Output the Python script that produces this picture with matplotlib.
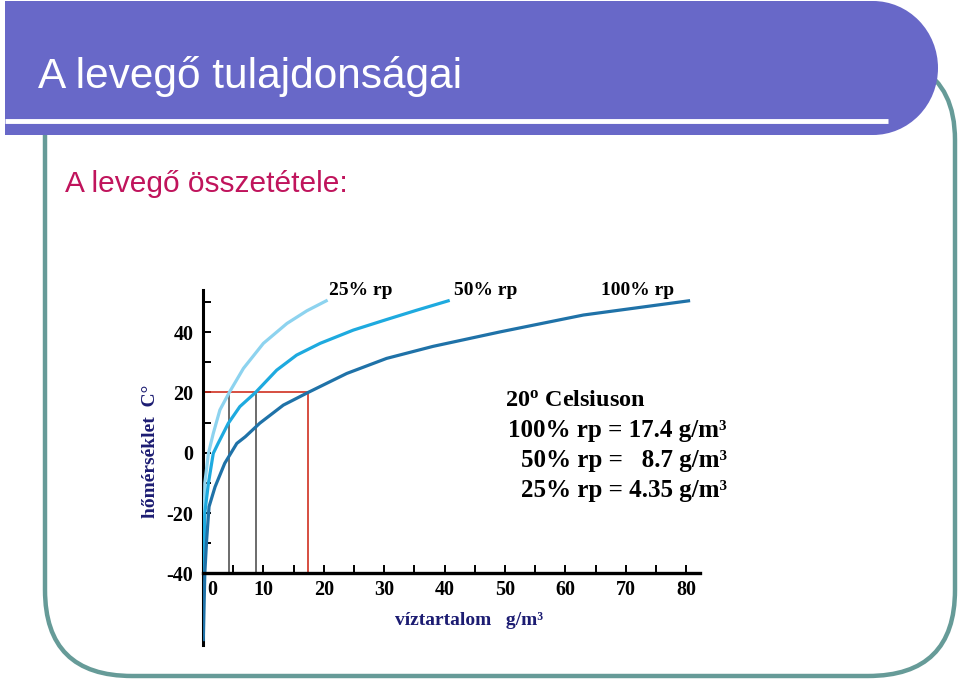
import matplotlib
matplotlib.use("Agg")
import matplotlib.pyplot as plt
from matplotlib.patches import Rectangle, Ellipse, PathPatch
from matplotlib.path import Path
from matplotlib.ticker import FixedLocator
from matplotlib.transforms import ScaledTranslation

# ----- DATA (temperature C, water content g/m3) -----
t_100 = [-62, -40, -29, -17.9, -11.3, -3.5, 3.1, 5.3, 9.8, 15.8, 20, 26.3, 31.3, 35.3, 40.1, 45.7, 50.4]
w_100 = [0.05, 0.3, 0.6, 1.0, 2.0, 3.6, 5.6, 7.0, 9.4, 13.3, 17.4, 23.8, 30.4, 38.1, 49.2, 63.0, 80.4]

t_50 = [-40, -20, -10.1, -0.2, 3.1, 9.8, 15.3, 20, 27.4, 32.4, 36.3, 40.7, 44.2, 47.3, 50.4]
w_50 = [0.1, 0.3, 0.9, 1.7, 2.5, 4.2, 6.1, 8.7, 12.2, 15.5, 19.4, 24.9, 30.4, 35.4, 40.6]

t_25 = [-40, -10.1, -0.2, 6.4, 14.2, 20, 28, 36.3, 42.9, 47.1, 50.4]
w_25 = [0.1, 0.3, 0.9, 1.7, 2.8, 4.35, 6.7, 10.0, 13.9, 17.2, 20.4]

x_major = [0, 10, 20, 30, 40, 50, 60, 70, 80]
x_minor = [5, 15, 25, 35, 45, 55, 65, 75]
y_major = [-40, -20, 0, 20, 40]
y_minor = [-30, -10, 10, 30, 50]

t_mark = 20
w_marks = [4.35, 8.7, 17.4]

curve_labels = ["25% rp", "50% rp", "100% rp"]
info_title = "20$^{\\rm o}$ Celsiuson"
info_lines = ["100% rp = 17.4 g/m³", "50% rp =   8.7 g/m³", "25% rp = 4.35 g/m³"]

# ----- STYLE -----
SERIF = ['Liberation Serif', 'DejaVu Serif']
SANS = ['Liberation Sans Narrow', 'Liberation Sans', 'DejaVu Sans']
NAVY = '#1c1c72'
PURPLE = '#6868c8'
TEAL = '#669b98'
C25, C50, C100 = '#8dd3ef', '#1eaadf', '#1f72a8'

plt.rcParams['font.family'] = SERIF
plt.rcParams['font.weight'] = 'bold'
plt.rcParams['axes.labelweight'] = 'bold'
plt.rcParams['axes.unicode_minus'] = False
plt.rcParams['mathtext.fontset'] = 'custom'
plt.rcParams['mathtext.rm'] = 'Liberation Serif:bold'
plt.rcParams['mathtext.bf'] = 'Liberation Serif:bold'
plt.rcParams['mathtext.it'] = 'Liberation Serif:bold:italic'

fig = plt.figure(figsize=(9.6, 6.83), dpi=100)
fig.patch.set_facecolor('white')

# slide background in pixel coordinates
bg = fig.add_axes([0, 0, 1, 1])
bg.set_xlim(0, 960)
bg.set_ylim(683, 0)
bg.axis('off')

verts = [(45, 135), (45, 590), (45, 676), (132, 676), (868, 676), (955, 676), (955, 590),
         (955, 140), (955, 88), (920, 68)]
codes = [Path.MOVETO, Path.LINETO, Path.CURVE3, Path.CURVE3, Path.LINETO, Path.CURVE3, Path.CURVE3,
         Path.LINETO, Path.CURVE3, Path.CURVE3]
bg.add_patch(PathPatch(Path(verts, codes), fill=False, edgecolor=TEAL, lw=3.2, zorder=1))
bg.add_patch(Rectangle((5, 1), 868, 134, facecolor=PURPLE, edgecolor='none', zorder=2))
bg.add_patch(Ellipse((873, 68), 130, 134, facecolor=PURPLE, edgecolor='none', zorder=2))
bg.plot([5, 888], [121, 121], color='white', lw=3.5, solid_capstyle='butt', zorder=3)

bg.text(38, 88, "A levegő tulajdonságai", color='white', fontsize=30.5, family=SANS,
        fontweight='normal', ha='left', va='baseline', zorder=4)
bg.text(65, 192, "A levegő összetétele:", color='#c0145c', fontsize=21.5, family=SANS,
        fontweight='normal', ha='left', va='baseline', zorder=4)

bg.text(505, 406, info_title, fontsize=17.5, ha='left', va='baseline', color='black')
for i, line in enumerate(info_lines):
    bg.text(727, 437 + 30 * i, line, fontsize=18, ha='right', va='baseline', color='black')

# ----- CHART -----
ax = fig.add_axes([203 / 960, 1 - 645 / 683, 497 / 960, 355 / 683])
ax.patch.set_alpha(0)
ax.set_xlim(0, 82.3)
ax.set_ylim(-63.8, 54.0)

for w in w_marks[:2]:
    ax.plot([w, w], [-40, t_mark], color='#444444', lw=1.1, zorder=2)
ax.plot([0, w_marks[2], w_marks[2]], [t_mark, t_mark, -40], color='#d03020', lw=1.2, zorder=2)

ax.plot(w_25, t_25, color=C25, lw=2.3, zorder=3)
ax.plot(w_50, t_50, color=C50, lw=2.3, zorder=3)
ax.plot(w_100, t_100, color=C100, lw=2.3, zorder=3)

for lab, xpos in zip(curve_labels, [26.2, 46.8, 71.9]):
    ax.text(xpos, 52.3, lab, fontsize=14, ha='center', va='baseline')

for s in ['top', 'right']:
    ax.spines[s].set_visible(False)
ax.spines['left'].set_linewidth(2.2)
ax.spines['bottom'].set_linewidth(2.4)
ax.spines['bottom'].set_position(('data', -40))
ax.spines['bottom'].set_zorder(4)

ax.xaxis.set_major_locator(FixedLocator(x_major))
ax.xaxis.set_minor_locator(FixedLocator(x_minor))
ax.yaxis.set_major_locator(FixedLocator(y_major))
ax.yaxis.set_minor_locator(FixedLocator(y_minor))
ax.tick_params(axis='x', which='both', direction='in', length=6, width=1.4, pad=5, labelsize=14.5)
ax.tick_params(axis='y', which='both', direction='in', length=6, width=1.4, pad=7, labelsize=14.5)

ax.set_xlabel("víztartalom   g/m³", color=NAVY, fontsize=14, fontweight='bold', va='baseline')
ax.xaxis.set_label_coords((469 - 203) / 497, (645 - 625) / 355)
ax.set_ylabel("hőmérséklet  C°", color=NAVY, fontsize=14, fontweight='bold', va='center')
ax.yaxis.set_label_coords((150.5 - 203) / 497, (645 - 451) / 355)

fig.canvas.draw()
lbl0 = ax.get_xticklabels()[0]
lbl0.set_transform(lbl0.get_transform() + ScaledTranslation(0.09, 0, fig.dpi_scale_trans))

fig.savefig("out.png", dpi=100, facecolor='white')
